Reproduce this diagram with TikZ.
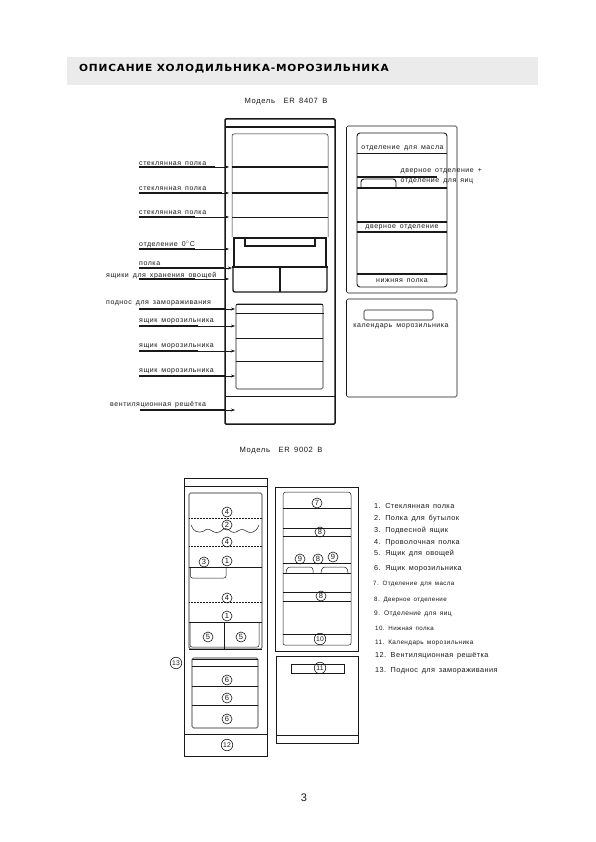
\documentclass[tikz,border=0pt]{standalone}
\usepackage{fontspec}
\setmainfont{Liberation Sans}
\newfontfamily\lblfont[LetterSpace=8,WordSpace=1.6]{Liberation Sans}
\newfontfamily\legfont[LetterSpace=6,WordSpace=1.5]{Liberation Sans}
\newfontfamily\headfont[LetterSpace=8,FakeStretch=1.08]{DejaVu Sans}
\usetikzlibrary{arrows.meta,calc}
\definecolor{ink}{gray}{0.1}
\tikzset{
  x=1pt,y=-1pt,
  lbl/.style={inner sep=0pt,yshift=-1pt,font=\lblfont\fontsize{7}{8}\selectfont,text=ink},
  lleft/.style={lbl,anchor=west},
  leg/.style={inner sep=0pt,anchor=west,font=\legfont\fontsize{7.3}{8}\selectfont,text=ink},
  model/.style={inner sep=0pt,font=\lblfont\fontsize{7.6}{9}\selectfont,text=ink},
  thick box/.style={draw=ink,line width=1.5pt,line join=round},
  thin box/.style={draw=ink,line width=.6pt,rounded corners=1.5pt},
  med/.style={draw=ink,line width=.9pt},
  heavy/.style={draw=ink,line width=1.4pt},
  fine/.style={draw=ink,line width=.5pt},
  lead/.style={draw=ink,line width=1.3pt},
  leadthin/.style={draw=ink,line width=.5pt,-{Stealth[length=4pt,width=3pt]}},
  num/.style={circle,draw=ink,line width=.6pt,inner sep=0pt,minimum size=10pt,font=\fontsize{7.5}{8}\selectfont,text=ink},
  numw/.style={num,minimum size=11.5pt,font=\fontsize{6.8}{7}\selectfont},
}
\newcommand{\leader}[4]{% y, start x, split x, end x
  \coordinate (la#1) at (#2,#1);\coordinate (lb#1) at (#3,#1);\coordinate (lc#1) at (#4,#1);
  \draw[lead] (la#1) -- (lb#1);
  \draw[leadthin] (lb#1) -- (lc#1);}
\begin{document}
\begin{tikzpicture}
\useasboundingbox (0,0) rectangle (595,842);
\fill[white] (0,0) rectangle (595,842);
% header
\node[fill=black!8,minimum width=471pt,minimum height=28pt,inner sep=0pt,anchor=north west] (hdr) at (67,57) {};
\node[inner sep=0pt,anchor=west,font=\headfont\bfseries\fontsize{9.8}{10}\selectfont,text=black] (title) at (79,69) {ОПИСАНИЕ ХОЛОДИЛЬНИКА-МОРОЗИЛЬНИКА};
\node[model] (m1) at (286,102) {Модель\ \ ER 8407 B};
\node[model] (m2) at (281,451) {Модель\ \ ER 9002 B};
\node[inner sep=0pt,font=\fontsize{11}{12}\selectfont,text=ink] (pg) at (304,798) {3};

% ---------- fridge 1
\draw[thick box,rounded corners=1pt] (225,119) rectangle (335,424);
\draw[heavy] (225,127) -- (335,127);
\draw[med] (225,396) -- (335,396);
\draw[fine] (232,237) -- (232,136) to[out=90,in=180] (234,134) -- (326,134) to[out=0,in=90] (328,136) -- (328,237);
\draw[heavy] (232,167) -- (328,167);
\draw[heavy] (232,193) -- (328,193);
\draw[fine] (232,217) -- (328,217);
% 0C
\draw[heavy] (234,267) -- (234,238) -- (326,238) -- (326,267);
\draw[heavy] (245,238) -- (245,246) -- (315,246) -- (315,238);
\draw[heavy] (232,267) -- (328,267);
\draw[heavy,rounded corners=2pt] (233,267) -- (233,292) -- (327,292) -- (327,267);
\draw[heavy] (280,267) -- (280,292);
% freezer
\draw[thin box] (236,304) rectangle (323,389);
\draw[heavy] (236,304.5) -- (323,304.5);
\draw[med] (236,313.5) -- (324,313.5);
\draw[fine] (236,338) -- (323,338);
\draw[med] (236,361) -- (323,361);
% leaders
\leader{167}{139}{215}{229}
\leader{193}{139}{222}{229}
\leader{217}{139}{195}{229}
\leader{249}{139}{195}{229}
\leader{268}{139}{224}{232}
\leader{279}{139}{195}{229}
\leader{309}{139}{225}{235}
\leader{326}{139}{198}{235}
\leader{351}{139}{198}{235}
\leader{376}{139}{226}{235}
\leader{410}{140}{226}{235}
\node[lleft] (l1) at (139,163) {стеклянная полка};
\node[lleft] (l2) at (139,187.5) {стеклянная полка};
\node[lleft] (l3) at (139,212) {стеклянная полка};
\node[lleft] (l4) at (139,243.5) {отделение 0$^{\circ}$C};
\node[lleft] (l5) at (139,263) {полка};
\node[lleft] (l6) at (106,274.5) {ящики для хранения овощей};
\node[lleft] (l7) at (106,302.5) {поднос для замораживания};
\node[lleft] (l8) at (139,320.5) {ящик морозильника};
\node[lleft] (l9) at (139,345.5) {ящик морозильника};
\node[lleft] (l10) at (139,370) {ящик морозильника};
\node[lleft] (l11) at (110,404) {вентиляционная решётка};

% ---------- door panel 1
\draw[thin box] (346.5,126) rectangle (457,293);
\draw[med,rounded corners=3pt] (357,287) -- (357,133) -- (447,133) -- (447,287) -- cycle;
\draw[heavy] (357,153.5) -- (447,153.5);
\draw[heavy] (357,177) -- (437,177);
\draw[heavy] (357,188) -- (447,188);
\draw[med,rounded corners=3pt] (361,188) -- (361,179) -- (396,179) -- (396,188);
\draw[heavy] (357,222) -- (447,222);
\draw[heavy] (357,232) -- (447,232);
\draw[heavy] (357,274) -- (447,274);
\node[lbl] (d1) at (402.5,147) {отделение для масла};
\node[lbl,anchor=west] (d2) at (400.5,170.5) {дверное отделение +};
\node[lbl,anchor=west] (d3) at (400.5,180.5) {отделение для яиц};
\node[lbl] (d4) at (402,226.5) {дверное отделение};
\node[lbl] (d5) at (402,279.5) {нижняя полка};
\draw[thin box] (346.5,299) rectangle (457,397);
\draw[thin box] (364,310) rectangle (433,320);
\node[lbl] (d6) at (401,325.5) {календарь морозильника};

% ---------- fridge 2
\draw[med] (184,478) rectangle (267,756);
\draw[fine] (184,486) -- (267,486);
\draw[med] (184,734) -- (267,734);
\draw[thin box] (189,493) rectangle (262,649);
\draw[fine,densely dotted] (189,518) -- (262,518);
\draw[fine,densely dotted] (189,546) -- (262,546);
\draw[fine,densely dotted] (189,602) -- (262,602);
\draw[fine] (191,525) .. controls (193,531) and (198,534) .. (204,531)
  .. controls (207,528) and (209,529) .. (212,531) .. controls (215,533) and (218,533) .. (221,531)
  .. controls (224,528) and (226,528) .. (229,530) .. controls (232,533) and (235,533) .. (238,531)
  .. controls (241,529) and (243,529) .. (246,531) .. controls (250,534) and (256,533) .. (259,525);
\draw[fine] (189,567) -- (262,567);
\draw[fine,rounded corners=2pt] (190.5,567) -- (190.5,578) -- (226,578) -- (226,567);
\draw[fine] (189,622) -- (262,622);
\draw[fine] (224.5,622) -- (224.5,649);
\draw[med,rounded corners=2pt] (189,649) -- (262,649);
\draw[fine,rounded corners=2pt] (190,622) -- (190,647) -- (259,647) -- (259,622);
\draw[thin box] (192,658) rectangle (258,728);
\draw[heavy] (192,659.5) -- (258,659.5);
\draw[fine] (192,666) -- (258,666);
\draw[fine] (192,686.5) -- (258,686.5);
\draw[fine] (192,705) -- (258,705);

% ---------- door panel 2
\draw[med] (275.5,487) rectangle (358,651);
\draw[fine,rounded corners=3pt] (283,508) -- (283,492) -- (351,492) -- (351,508);
\draw[fine,rounded corners=2pt] (283,508) -- (283,645) -- (351,645) -- (351,508);
\draw[fine] (283,508) -- (351,508);
\draw[fine] (283,528) -- (351,528);
\draw[fine] (283,536) -- (351,536);
\draw[fine] (283,563) -- (351,563);
\draw[fine] (283,573) -- (351,573);
\draw[fine] (283,592) -- (351,592);
\draw[fine] (283,601) -- (351,601);
\draw[fine] (283,634) -- (351,634);
\draw[fine,rounded corners=3pt] (286,573) -- (287,567) -- (313,567) -- (313,573);
\draw[fine,rounded corners=3pt] (321,573) -- (322,567) -- (347,567) -- (348,573);
\draw[med] (276,656) rectangle (358.5,743);
\draw[fine] (276,735) -- (358.5,735);
\draw[fine] (291,664.5) rectangle (344,673);

% ---------- numbers
\node[num] (n1) at (227,512) {4};
\node[num] (n2) at (227,525) {2};
\node[num] (n3) at (227,542) {4};
\node[num] (n4) at (204,562) {3};
\node[num] (n5) at (227,561) {1};
\node[num] (n6) at (227,598) {4};
\node[num] (n7) at (227,616) {1};
\node[num] (n8) at (208,637) {5};
\node[num] (n9) at (241,637) {5};
\node[numw] (n10) at (176,663) {13};
\node[num] (n11) at (227,680) {6};
\node[num] (n12) at (227,698) {6};
\node[num] (n13) at (227,719) {6};
\node[numw] (n14) at (227,745) {12};
\node[num] (n15) at (317,503) {7};
\node[num] (n16) at (320,532) {8};
\node[num] (n17) at (300,559) {9};
\node[num] (n18) at (318,559) {8};
\node[num] (n19) at (333,557) {9};
\node[num] (n20) at (321,596) {8};
\node[numw] (n21) at (320,639) {10};
\node[numw] (n22) at (320,668) {11};

% ---------- legend
\node[leg] (k1) at (374,505.5) {1. Стеклянная полка};
\node[leg] (k2) at (374,518.5) {2. Полка для бутылок};
\node[leg] (k3) at (374,530.5) {3. Подвесной ящик};
\node[leg] (k4) at (374,542.5) {4. Проволочная полка};
\node[leg] (k5) at (374,554) {5. Ящик для овощей};
\node[leg] (k6) at (374,569) {6. Ящик морозильника};
\node[leg,font=\legfont\fontsize{6.2}{7}\selectfont] (k7) at (373,583.5) {7. Отделение для масла};
\node[leg,font=\legfont\fontsize{6.2}{7}\selectfont] (k8) at (374,600) {8. Дверное отделение};
\node[leg,font=\legfont\fontsize{6.6}{7}\selectfont] (k9) at (374,613.5) {9. Отделение для яиц};
\node[leg,font=\legfont\fontsize{6.2}{7}\selectfont] (k10) at (375,628) {10. Нижная полка};
\node[leg,font=\legfont\fontsize{6.4}{7}\selectfont] (k11) at (375,642.5) {11. Календарь морозильника};
\node[leg] (k12) at (375,655.5) {12. Вентиляционная решётка};
\node[leg] (k13) at (375,671) {13. Поднос для замораживания};
\end{tikzpicture}
\end{document}
